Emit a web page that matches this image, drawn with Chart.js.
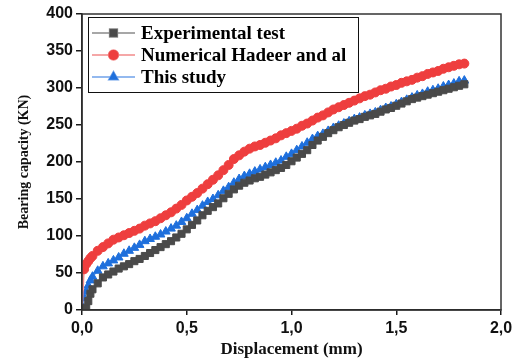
<!DOCTYPE html>
<html>
<head>
<meta charset="utf-8">
<script src="https://cdn.jsdelivr.net/npm/chart.js@4.4.1/dist/chart.umd.min.js"></script>
<style>
  html, body { margin: 0; padding: 0; background: #fff; }
  #chart { display: block; }
</style>
</head>
<body>
<canvas id="chart" width="522" height="363"></canvas>
<script>
(function () {
  'use strict';

  // displacement (mm), shared by the three curves
  const displacement = [
    0, 0.01, 0.02, 0.03, 0.04, 0.05, 0.075, 0.1, 0.125, 0.15, 0.175, 0.2, 0.225, 0.25,
    0.275, 0.3, 0.325, 0.35, 0.375, 0.4, 0.425, 0.45, 0.475, 0.5, 0.525, 0.55, 0.575,
    0.6, 0.625, 0.65, 0.675, 0.7, 0.725, 0.75, 0.775, 0.8, 0.825, 0.85, 0.875, 0.9,
    0.925, 0.95, 0.975, 1.0, 1.025, 1.05, 1.075, 1.1, 1.125, 1.15, 1.175, 1.2, 1.225,
    1.25, 1.275, 1.3, 1.325, 1.35, 1.375, 1.4, 1.425, 1.45, 1.475, 1.5, 1.525, 1.55,
    1.575, 1.6, 1.625, 1.65, 1.675, 1.7, 1.725, 1.75, 1.775, 1.8, 1.825
  ];

  // bearing capacity (KN)
  const experimental = [
    0, 0, 3, 12, 22, 28, 36, 44, 48, 52, 56, 59, 62, 66,
    69, 73, 77, 81, 85, 89, 93, 98, 103, 109, 115, 121, 128,
    134, 139, 144, 151, 157, 163, 168, 172, 175, 178, 180, 183, 186,
    189, 192, 196, 201, 206, 211, 216, 223, 229, 234, 239, 243, 247,
    250, 253, 256, 258, 261, 263, 265, 268, 271, 273, 276, 279, 282,
    285, 287, 289, 291, 293, 295, 297, 299, 301, 303, 305
  ];

  const numerical = [
    0, 55, 62, 66, 70, 73, 80, 85, 90, 95, 98, 101, 104, 107,
    110, 114, 117, 120, 124, 128, 132, 137, 142, 148, 153, 158, 164,
    170, 176, 182, 189, 196, 204, 209, 214, 218, 221, 223, 226, 229,
    232, 236, 239, 242, 245, 249, 252, 256, 260, 263, 267, 271, 274,
    277, 280, 283, 286, 289, 291, 294, 297, 299, 302, 304, 307, 309,
    311, 314, 316, 319, 321, 323, 326, 328, 330, 332, 333
  ];

  const thisStudy = [
    5, 16, 25, 33, 40, 45, 53, 59, 63, 67, 71, 76, 80, 84,
    88, 93, 96, 99, 102, 106, 110, 114, 119, 124, 130, 135, 141,
    146, 150, 155, 161, 166, 172, 177, 181, 184, 187, 190, 193, 196,
    199, 202, 207, 211, 216, 221, 226, 231, 235, 238, 242, 246, 249,
    252, 255, 258, 260, 263, 265, 267, 270, 273, 275, 278, 281, 284,
    287, 290, 292, 295, 297, 299, 302, 304, 306, 309, 310
  ];

  const seriesLabels = ['Experimental test', 'Numerical Hadeer and al', 'This study'];
  const xTicks = [0, 0.5, 1.0, 1.5, 2.0];
  const yTicks = [0, 50, 100, 150, 200, 250, 300, 350, 400];

  const SANS  = '"Liberation Sans", Arial, sans-serif';
  const SERIF = '"Liberation Serif", "Times New Roman", serif';
  const AXIS  = '#1a1a1a';

  function pts(ys) {
    return displacement.map((x, i) => ({ x: x, y: ys[i] }));
  }

  function series(label, ys, marker, line, style, radius) {
    return {
      label: label,
      data: pts(ys),
      borderColor: line,
      borderWidth: 1.5,
      pointStyle: style,
      pointRadius: radius,
      pointBackgroundColor: marker,
      pointBorderColor: marker,
      pointBorderWidth: 1,
      tension: 0,
      _marker: marker,
    };
  }

  // frame round the plot area
  const framePlugin = {
    id: 'frame',
    afterDraw(chart) {
      const { ctx, chartArea: a } = chart;
      ctx.save();
      ctx.strokeStyle = '#333';
      ctx.lineWidth = 1.5;
      ctx.strokeRect(a.left, a.top, a.right - a.left, a.bottom - a.top);
      ctx.restore();
    },
  };

  // boxed legend inside the upper left corner
  const legendPlugin = {
    id: 'boxLegend',
    afterDraw(chart) {
      const ctx = chart.ctx;
      const bx = 88.5, by = 17.5, bw = 270, bh = 75;
      ctx.save();
      ctx.fillStyle = '#fff';
      ctx.fillRect(bx, by, bw, bh);
      ctx.strokeStyle = '#111';
      ctx.lineWidth = 1;
      ctx.strokeRect(bx, by, bw, bh);
      const rows = [33, 55, 77];
      chart.data.datasets.forEach((ds, i) => {
        const y = rows[i];
        ctx.strokeStyle = ds.borderColor;
        ctx.lineWidth = 1.5;
        ctx.beginPath();
        ctx.moveTo(92, y);
        ctx.lineTo(135, y);
        ctx.stroke();
        Chart.helpers.drawPoint(ctx, {
          pointStyle: ds.pointStyle,
          radius: ds.pointRadius + 0.5,
          borderWidth: 1,
        }, 113.5, y);
        ctx.fillStyle = ds._marker;
        ctx.strokeStyle = ds._marker;
        ctx.fill();
        ctx.fillStyle = '#000';
        ctx.font = 'bold 19px ' + SERIF;
        ctx.textBaseline = 'middle';
        ctx.textAlign = 'left';
        ctx.fillText(ds.label, 141, y + 1);
      });
      ctx.restore();
    },
  };

  new Chart(document.getElementById('chart'), {
    type: 'line',
    data: {
      datasets: [
        series(seriesLabels[0], experimental, '#4a4a4a', '#8a8a8a', 'rect', 5),
        series(seriesLabels[1], numerical, '#ee3e3e', '#f28a8a', 'circle', 4.5),
        series(seriesLabels[2], thisStudy, '#1e6fdc', '#6fa2ea', 'triangle', 5),
      ],
    },
    options: {
      responsive: false,
      animation: false,
      devicePixelRatio: 1,
      layout: { padding: { top: 14, right: 21, left: 0, bottom: 0 } },
      plugins: {
        legend: { display: false },
        tooltip: { enabled: false },
      },
      scales: {
        x: {
          type: 'linear',
          min: 0,
          max: 2,
          afterBuildTicks: s => { s.ticks = xTicks.map(v => ({ value: v })); },
          afterFit: s => { s.height = 53; },
          grid: { drawOnChartArea: false, drawTicks: true, tickLength: 5, color: AXIS, lineWidth: 1.5 },
          border: { color: AXIS, width: 1.5 },
          ticks: {
            color: '#111',
            padding: 4,
            maxRotation: 0,
            font: { family: SANS, size: 16, weight: 'bold' },
            callback: v => v.toFixed(1).replace('.', ','),
          },
          title: {
            display: true,
            text: 'Displacement (mm)',
            color: '#111',
            padding: { top: 0, bottom: 3 },
            font: { family: SERIF, size: 17, weight: 'bold' },
          },
        },
        y: {
          min: 0,
          max: 400,
          afterBuildTicks: s => { s.ticks = yTicks.map(v => ({ value: v })); },
          afterFit: s => { s.width = 82; },
          grid: { drawOnChartArea: false, drawTicks: true, tickLength: 6, color: AXIS, lineWidth: 1.5 },
          border: { color: AXIS, width: 1.5 },
          ticks: {
            color: '#111',
            padding: 3,
            font: { family: SANS, size: 16, weight: 'bold' },
          },
          title: {
            display: true,
            text: 'Bearing capacity (KN)',
            color: '#111',
            padding: { top: 16, bottom: 0 },
            font: { family: SERIF, size: 14, weight: 'bold' },
          },
        },
      },
    },
    plugins: [framePlugin, legendPlugin],
  });
})();
</script>
</body>
</html>
